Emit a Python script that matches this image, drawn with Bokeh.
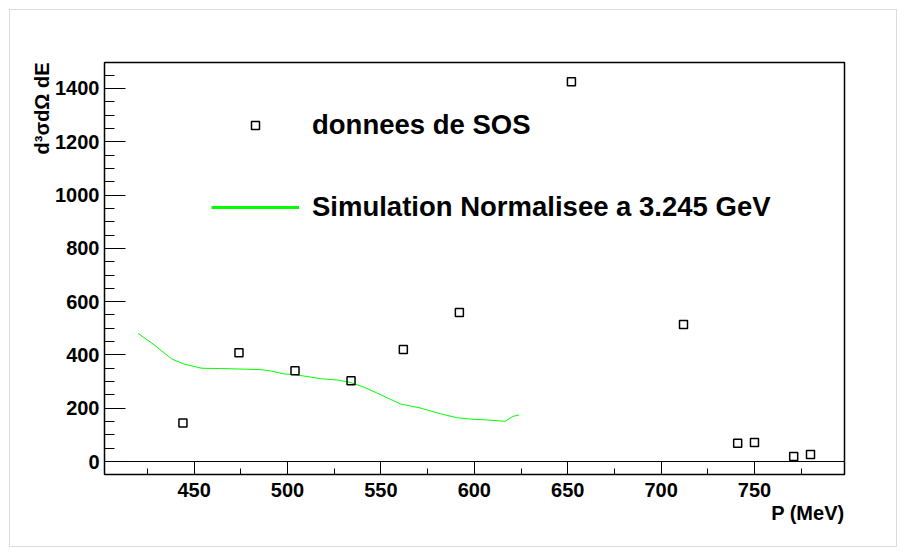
from bokeh.plotting import figure
from bokeh.models import (Range1d, SingleIntervalTicker, Span, Legend,
                          LegendItem, ColumnDataSource, CDSView, IndexFilter,
                          Title)
from bokeh.embed import file_html
from bokeh.resources import INLINE

# ---- data ----
sos_p = [444, 474, 504, 534, 562, 592, 652, 712, 741, 750, 771, 780]
sos_xsec = [145, 408, 341, 303, 420, 559, 1425, 514, 69, 71, 19, 26]

sim_p = [420, 428, 438, 444.5, 454, 464, 485.5, 491, 498, 503.5, 510.5, 517.5,
         526.5, 533.5, 541, 550, 560.5, 571, 582, 591, 600, 607, 616.5, 620.5, 624]
sim_xsec = [481, 441, 385, 366, 350, 349, 345, 340, 329, 326, 319, 311,
            306, 297, 279, 250, 216, 201, 179, 164, 158, 156, 151, 169, 175]

legend_labels = ["donnees de SOS", "Simulation Normalisee a 3.245 GeV"]
x_title = "P (MeV)"
y_title = "d\u00b3\u03c3d\u03a9 dE"

FONT = "Liberation Sans"

p = figure(frame_width=740, frame_height=412,
           min_border_left=94, min_border_top=52,
           min_border_right=52, min_border_bottom=72,
           x_range=Range1d(402, 798.2), y_range=Range1d(-48.7, 1497.5),
           output_backend="svg", toolbar_location=None)
p.styles = {"border": "1px solid #dcdcdc", "margin": "9px 0 0 9px"}
p.background_fill_color = "white"
p.border_fill_color = "white"
p.outline_line_color = "black"
p.outline_line_width = 1.5
p.xgrid.visible = False
p.ygrid.visible = False

# axes
p.xaxis.ticker = SingleIntervalTicker(interval=50, num_minor_ticks=2)
p.yaxis.ticker = SingleIntervalTicker(interval=200, num_minor_ticks=4)
for ax in (p.xaxis[0], p.yaxis[0]):
    ax.axis_line_color = "black"
    ax.major_tick_line_color = "black"
    ax.minor_tick_line_color = "black"
    ax.major_tick_out = 0
    ax.minor_tick_out = 0
    ax.major_label_text_font = FONT
    ax.major_label_text_font_style = "bold"
    ax.major_label_text_font_size = "20px"
    ax.major_label_text_color = "black"
p.xaxis.major_tick_in = 13
p.xaxis.minor_tick_in = 6
p.yaxis.major_tick_in = 21
p.yaxis.minor_tick_in = 10
p.xaxis.major_label_standoff = 8
p.yaxis.major_label_standoff = 5

# axis titles, right/top aligned like ROOT
for side, txt in (("below", x_title), ("left", y_title)):
    p.add_layout(Title(text=txt, align="right", standoff=0, offset=0,
                       text_font=FONT, text_font_style="bold",
                       text_font_size="20px", text_color="black"), side)

# zero line
p.add_layout(Span(location=0, dimension="width", line_color="black", line_width=1))

src_sim = ColumnDataSource(dict(x=sim_p, y=sim_xsec))
src_sos = ColumnDataSource(dict(x=sos_p, y=sos_xsec))

r_line = p.line("x", "y", source=src_sim, line_color="#00ff00", line_width=1)
r_pts = p.scatter("x", "y", source=src_sos, marker="square", size=8,
                  fill_color=None, line_color="black", line_width=1.5)
# single-point view (draws nothing) used only for a thicker legend sample
r_leg = p.line("x", "y", source=src_sim, view=CDSView(filter=IndexFilter([0])),
               line_color="#00ff00", line_width=3)

legend = Legend(items=[LegendItem(label=legend_labels[0], renderers=[r_pts]),
                       LegendItem(label=legend_labels[1], renderers=[r_leg])],
                location=(107, 251), orientation="vertical",
                glyph_width=88, glyph_height=20, label_height=20,
                label_standoff=13, spacing=50, padding=0, margin=0,
                border_line_color=None, background_fill_alpha=0,
                label_text_font=FONT, label_text_font_style="bold",
                label_text_font_size="27.5px", label_text_color="black")
p.add_layout(legend)

open("out.html", "w").write(file_html(p, INLINE))
